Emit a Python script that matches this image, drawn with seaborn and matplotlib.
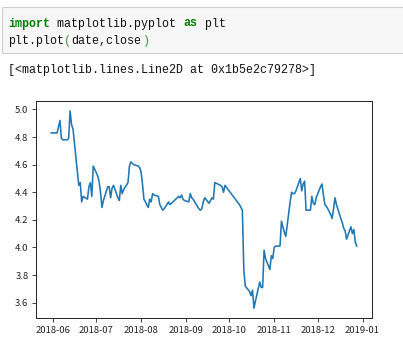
import matplotlib
matplotlib.use("Agg")
import matplotlib.pyplot as plt
import matplotlib.dates as mdates
from matplotlib.patches import Rectangle
import pandas as pd
import seaborn as sns

# ---- data ----
dates = [
    "2018-05-31", "2018-06-01", "2018-06-04", "2018-06-06", "2018-06-07", "2018-06-08",
    "2018-06-11", "2018-06-12", "2018-06-13", "2018-06-14", "2018-06-15", "2018-06-19",
    "2018-06-20", "2018-06-21", "2018-06-22", "2018-06-25", "2018-06-26", "2018-06-27",
    "2018-06-28", "2018-06-29", "2018-07-02", "2018-07-03", "2018-07-04", "2018-07-05",
    "2018-07-06", "2018-07-09", "2018-07-10", "2018-07-11", "2018-07-12", "2018-07-13",
    "2018-07-16", "2018-07-17", "2018-07-18", "2018-07-19", "2018-07-20", "2018-07-23",
    "2018-07-24", "2018-07-25", "2018-07-26", "2018-07-27", "2018-07-30", "2018-07-31",
    "2018-08-01", "2018-08-02", "2018-08-03", "2018-08-06", "2018-08-07", "2018-08-08",
    "2018-08-09", "2018-08-10", "2018-08-13", "2018-08-14", "2018-08-15", "2018-08-16",
    "2018-08-17", "2018-08-20", "2018-08-21", "2018-08-22", "2018-08-23", "2018-08-24",
    "2018-08-27", "2018-08-28", "2018-08-29", "2018-08-30", "2018-08-31", "2018-09-03",
    "2018-09-04", "2018-09-05", "2018-09-06", "2018-09-07", "2018-09-10", "2018-09-11",
    "2018-09-12", "2018-09-13", "2018-09-14", "2018-09-17", "2018-09-18", "2018-09-19",
    "2018-09-20", "2018-09-21", "2018-09-25", "2018-09-26", "2018-09-27", "2018-09-28",
    "2018-10-08", "2018-10-09", "2018-10-10", "2018-10-11", "2018-10-12", "2018-10-15",
    "2018-10-16", "2018-10-17", "2018-10-18", "2018-10-19", "2018-10-22", "2018-10-23",
    "2018-10-24", "2018-10-25", "2018-10-26", "2018-10-29", "2018-10-30", "2018-10-31",
    "2018-11-01", "2018-11-02", "2018-11-05", "2018-11-06", "2018-11-07", "2018-11-08",
    "2018-11-09", "2018-11-12", "2018-11-13", "2018-11-14", "2018-11-15", "2018-11-16",
    "2018-11-19", "2018-11-20", "2018-11-21", "2018-11-22", "2018-11-23", "2018-11-26",
    "2018-11-27", "2018-11-28", "2018-11-29", "2018-11-30", "2018-12-03", "2018-12-04",
    "2018-12-05", "2018-12-06", "2018-12-07", "2018-12-10", "2018-12-11", "2018-12-12",
    "2018-12-13", "2018-12-14", "2018-12-17", "2018-12-18", "2018-12-19", "2018-12-20",
    "2018-12-21", "2018-12-24", "2018-12-25", "2018-12-26", "2018-12-27", "2018-12-28",
]
close = [
    4.83, 4.83, 4.83, 4.92, 4.79, 4.78,
    4.78, 4.79, 4.99, 4.89, 4.86, 4.45,
    4.47, 4.33, 4.37, 4.35, 4.44, 4.47,
    4.37, 4.59, 4.52, 4.48, 4.40, 4.29,
    4.34, 4.44, 4.44, 4.36, 4.43, 4.45,
    4.36, 4.34, 4.45, 4.39, 4.42, 4.47,
    4.59, 4.62, 4.61, 4.60, 4.59, 4.58,
    4.55, 4.46, 4.35, 4.29, 4.35, 4.33,
    4.39, 4.38, 4.37, 4.31, 4.29, 4.27,
    4.28, 4.33, 4.31, 4.32, 4.33, 4.34,
    4.37, 4.36, 4.38, 4.35, 4.34, 4.33,
    4.39, 4.36, 4.35, 4.33, 4.28, 4.27,
    4.28, 4.33, 4.36, 4.32, 4.34, 4.36,
    4.35, 4.47, 4.45, 4.44, 4.40, 4.45,
    4.31, 4.29, 4.27, 3.84, 3.72, 3.68,
    3.65, 3.69, 3.56, 3.61, 3.75, 3.71,
    3.71, 3.98, 3.92, 3.84, 3.94, 3.92,
    4.00, 4.01, 4.01, 4.19, 4.15, 4.11,
    4.08, 4.33, 4.40, 4.39, 4.39, 4.41,
    4.50, 4.41, 4.46, 4.48, 4.27, 4.27,
    4.37, 4.32, 4.31, 4.36, 4.44, 4.46,
    4.38, 4.31, 4.30, 4.24, 4.21, 4.28,
    4.36, 4.31, 4.21, 4.18, 4.14, 4.12,
    4.06, 4.15, 4.10, 4.13, 4.04, 4.01,
]
code_line1 = [("import", "kw"), (" matplotlib.pyplot ", "txt"), ("as", "kw"), (" plt", "txt")]
code_line2 = [("plt.plot", "txt"), ("(", "par"), ("date,close", "txt"), (")", "par")]
output_text = "[<matplotlib.lines.Line2D at 0x1b5e2c79278>]"

df = pd.DataFrame({"date": pd.to_datetime(dates), "close": close})

W, H = 403, 341
fig = plt.figure(figsize=(W / 100, H / 100), dpi=100)
fig.patch.set_facecolor("white")


def fx(px):
    return px / W


def fy(py):
    return 1 - py / H


# code cell box
fig.patches.append(Rectangle((fx(2), fy(53)), fx(420), 46 / H, transform=fig.transFigure,
                             facecolor="#f7f7f7", edgecolor="#cfcfcf", linewidth=0.8))

CW = 7.03
styles = {"kw": dict(color="#008000", fontweight="bold"),
          "txt": dict(color="#111111"),
          "par": dict(color="#3a9a3a")}


def draw_tokens(tokens, ypx):
    col = 0
    for tok, kind in tokens:
        fig.text(fx(8 + col * CW), fy(ypx), tok, family="Liberation Mono", fontsize=8.4,
                 va="center", ha="left", **styles[kind])
        col += len(tok)


draw_tokens(code_line1, 23.5)
draw_tokens(code_line2, 41)
fig.text(fx(8), fy(70), output_text, family="Liberation Mono", fontsize=8.4,
         va="center", ha="left", color="#111111")

ax = fig.add_axes([fx(36), fy(318), fx(372) - fx(36), fy(101) - fy(318)])
sns.lineplot(data=df, x="date", y="close", ax=ax, color="#1f77b4", linewidth=1.15,
             estimator=None, errorbar=None)
ax.set_xlabel("")
ax.set_ylabel("")
ax.xaxis.set_major_locator(mdates.MonthLocator())
ax.xaxis.set_major_formatter(mdates.DateFormatter("%Y-%m"))
ax.set_yticks([3.6, 3.8, 4.0, 4.2, 4.4, 4.6, 4.8, 5.0])
ax.tick_params(labelsize=6.8, length=3, width=0.6, colors="#222222", pad=2.5)
for lab in ax.get_xticklabels() + ax.get_yticklabels():
    lab.set_family("Noto Sans CJK SC")
for s in ax.spines.values():
    s.set_linewidth(0.7)
    s.set_color("#222222")

fig.savefig("out.png", dpi=100)
